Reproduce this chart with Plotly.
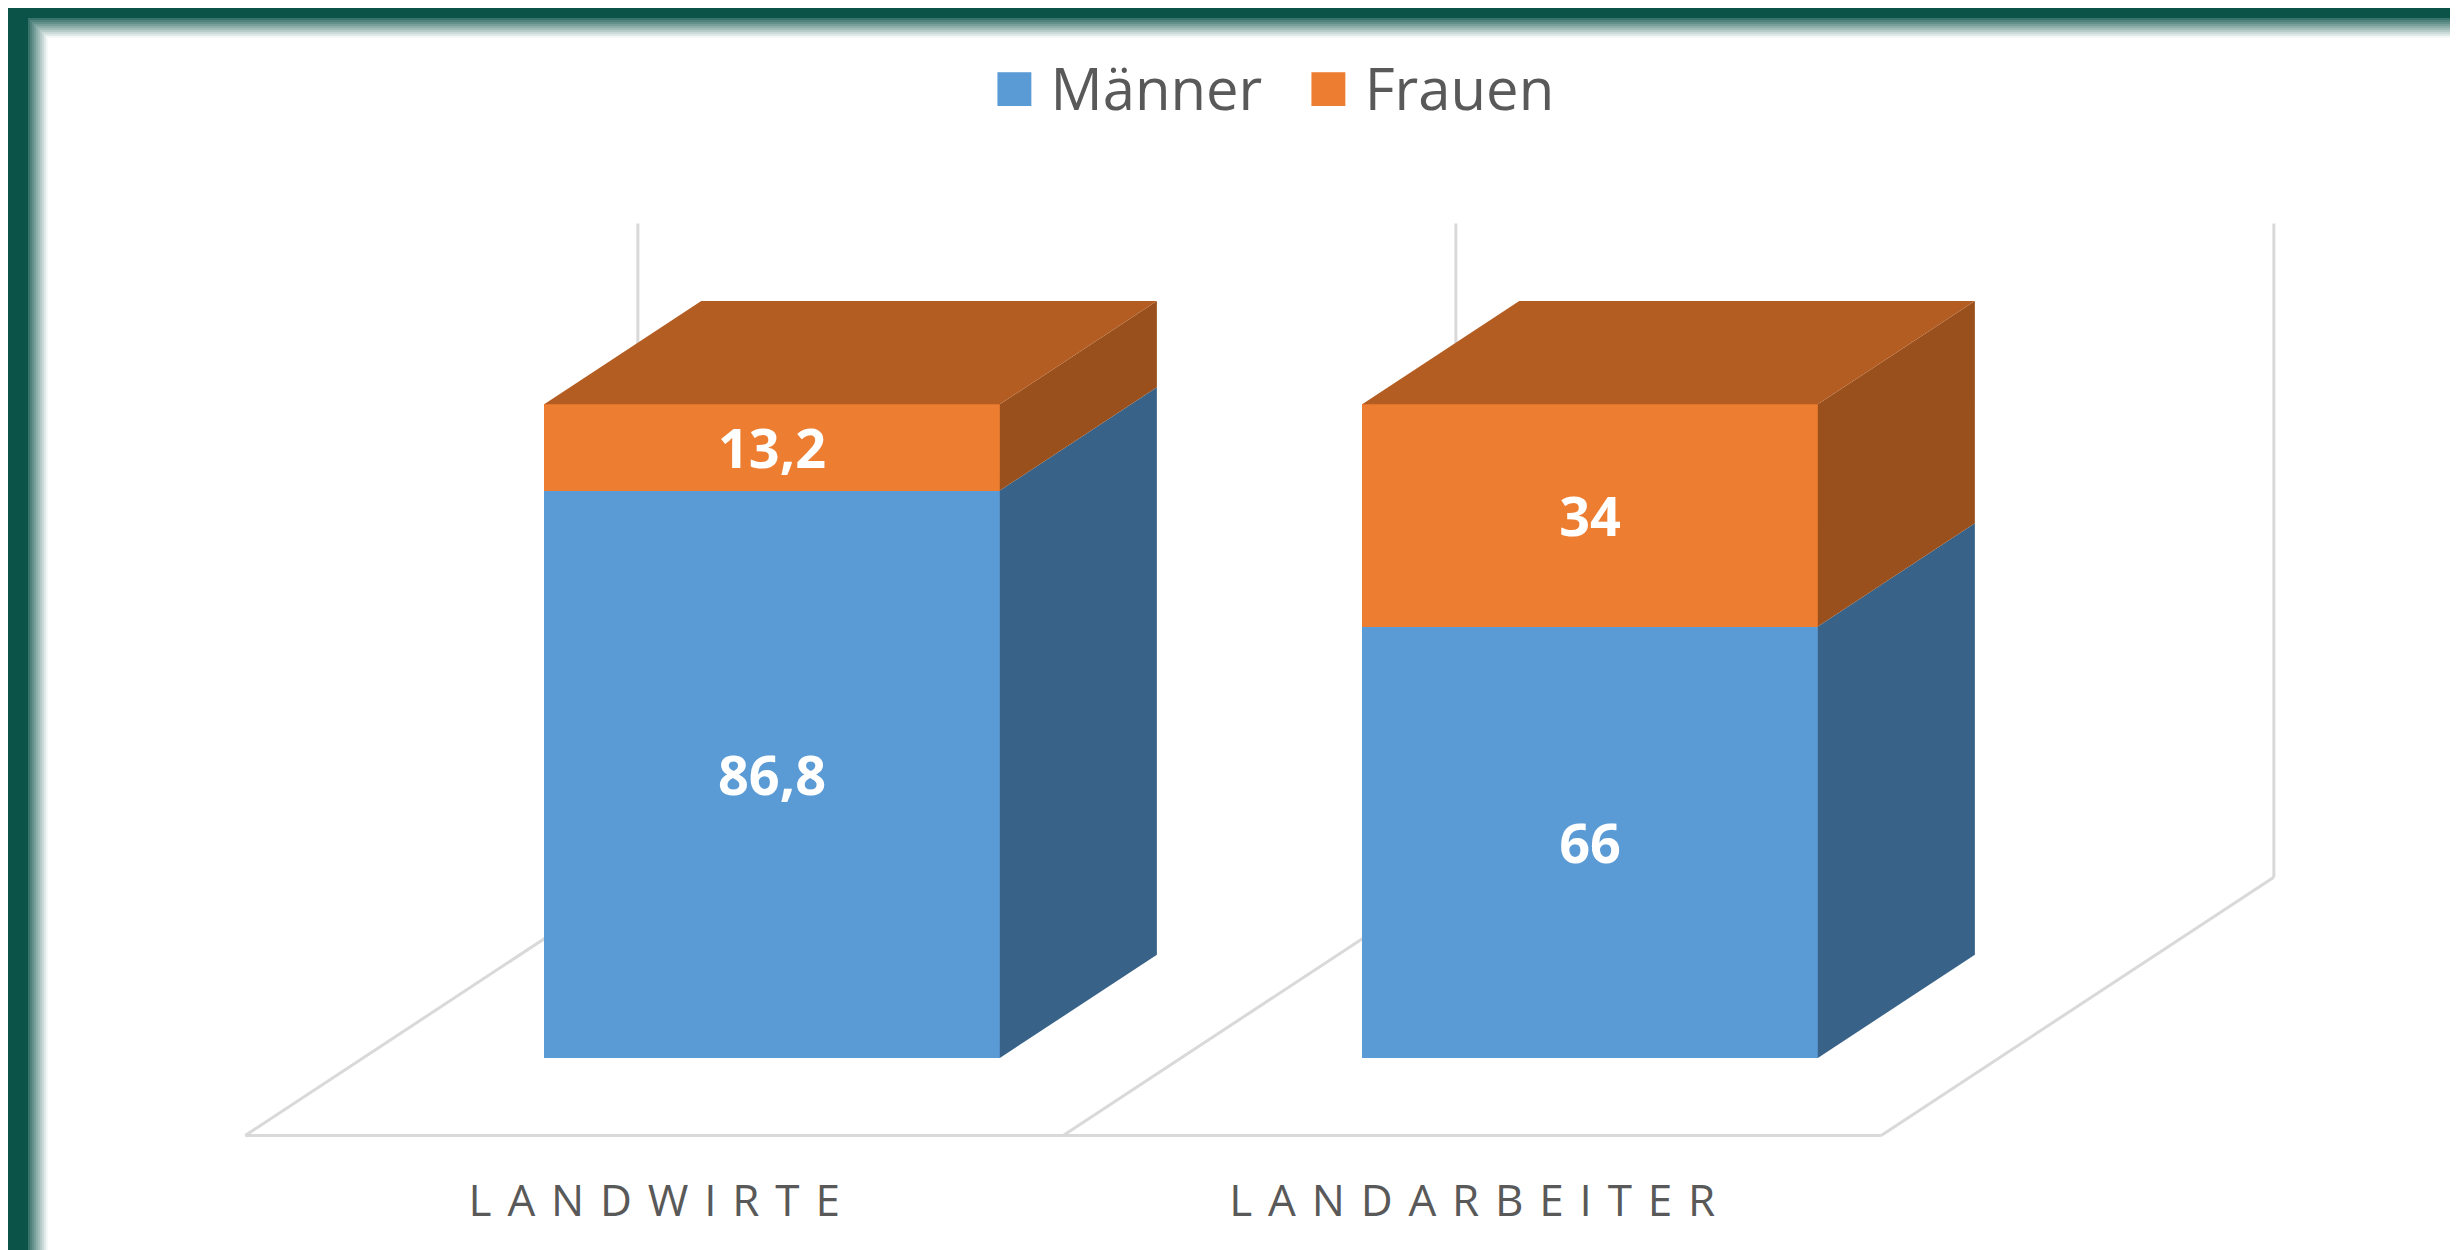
import plotly.graph_objects as go

# ---------------- data ----------------
categories = ["Landwirte", "Landarbeiter"]
tick_labels = ["LANDWIRTE", "LANDARBEITER"]
series_names = ["Männer", "Frauen"]
maenner = [86.8, 66]
frauen = [13.2, 34]

# ---------------- style / geometry ----------------
W, H = 2458, 1250
MB = 90                      # bottom margin (px)
PLOT_H = H - MB
BAR_W = 0.557                # bar width in category units
DX, DY = 0.192, 15.8         # oblique depth of one bar (x units, y units)
FLOOR_FRONT, FLOOR_BACK = -0.75, 1.75   # floor extent in bar depths
AXIS_MAX = 100
X_RANGE = [-0.9340, 2.0709]
Y_RANGE = [-16.83, 160.62]

front_cols = ["#5B9BD5", "#ED7D31"]
side_cols = ["#386287", "#9A501C"]
top_cols = ["#3F73A3", "#B45D22"]
wall_col = "#D9D9D9"
text_col = "#595959"
frame_col = "#0B5248"
FONT = "Open Sans"

series = [maenner, frauen]
xpos = list(range(len(categories)))


def fmt(v):
    return f"{v:g}".replace(".", ",")


def spaced(s):
    return (" \u200a").join(list(s))


fig = go.Figure()

# front faces: real stacked bars
for k, (name, vals) in enumerate(zip(series_names, series)):
    fig.add_trace(go.Bar(
        x=xpos, y=vals, name=name, width=BAR_W, legendgroup=name,
        showlegend=False,
        marker=dict(color=front_cols[k], line=dict(width=0)),
        text=[fmt(v) for v in vals], textposition="inside",
        insidetextanchor="middle", textangle=0,
        textfont=dict(color="white", size=54, family=FONT, weight="bold"),
        hoverinfo="skip",
    ))

# side and top faces, computed from the same values
for i in xpos:
    base = 0.0
    xr = i + BAR_W / 2
    xl = i - BAR_W / 2
    for k, vals in enumerate(series):
        top = base + vals[i]
        fig.add_trace(go.Scatter(
            x=[xr, xr + DX, xr + DX, xr, xr],
            y=[base, base + DY, top + DY, top, base],
            mode="lines", fill="toself", fillcolor=side_cols[k],
            line=dict(width=0, color=side_cols[k]),
            showlegend=False, hoverinfo="skip"))
        if k == len(series) - 1:
            fig.add_trace(go.Scatter(
                x=[xl, xl + DX, xr + DX, xr, xl],
                y=[top, top + DY, top + DY, top, top],
                mode="lines", fill="toself", fillcolor=top_cols[k],
                line=dict(width=0, color=top_cols[k]),
                showlegend=False, hoverinfo="skip"))
        base = top

# legend entries (large square keys like the original)
for k, name in enumerate(series_names):
    fig.add_trace(go.Scatter(
        x=[None], y=[None], mode="markers", legendgroup=name,
        name=f"<span style='color:{front_cols[k]};font-size:70px'>■</span> {name}",
        marker=dict(size=0, opacity=0, color="rgba(0,0,0,0)",
                    line=dict(width=0)),
        showlegend=True, hoverinfo="skip"))

# floor & wall structure (behind the bars)
shapes = []
n = len(categories)
fy = FLOOR_FRONT * DY
by = FLOOR_BACK * DY
line = dict(color=wall_col, width=3)
shapes.append(dict(type="line", xref="x", yref="y", layer="below",
                   x0=-0.5 + FLOOR_FRONT * DX, y0=fy,
                   x1=n - 0.5 + FLOOR_FRONT * DX, y1=fy, line=line))
for b in range(n + 1):
    c = b - 0.5
    shapes.append(dict(type="line", xref="x", yref="y", layer="below",
                       x0=c + FLOOR_FRONT * DX, y0=fy,
                       x1=c + FLOOR_BACK * DX, y1=by, line=line))
    shapes.append(dict(type="line", xref="x", yref="y", layer="below",
                       x0=c + FLOOR_BACK * DX, y0=by,
                       x1=c + FLOOR_BACK * DX, y1=by + AXIS_MAX, line=line))


# dark green frame (left and top), with soft fade
def px_x(p):
    return p / W


def px_y(p):
    return 1 - p / PLOT_H


shapes.append(dict(type="rect", xref="paper", yref="paper", layer="above",
                   x0=px_x(0), x1=px_x(20), y0=px_y(H), y1=px_y(0),
                   fillcolor=frame_col, line=dict(width=0)))
shapes.append(dict(type="rect", xref="paper", yref="paper", layer="above",
                   x0=px_x(0), x1=px_x(W), y0=px_y(10), y1=px_y(0),
                   fillcolor=frame_col, line=dict(width=0)))
steps = 10
for s in range(steps):
    op = 0.85 * (1 - (s + 0.5) / steps)
    shapes.append(dict(type="rect", xref="paper", yref="paper", layer="above",
                       x0=px_x(20 + 2 * s), x1=px_x(22 + 2 * s),
                       y0=px_y(H), y1=px_y(10 + 2 * s),
                       fillcolor=frame_col, opacity=op, line=dict(width=0)))
    shapes.append(dict(type="rect", xref="paper", yref="paper", layer="above",
                       x0=px_x(22 + 2 * s), x1=px_x(W),
                       y0=px_y(12 + 2 * s), y1=px_y(10 + 2 * s),
                       fillcolor=frame_col, opacity=op, line=dict(width=0)))

fig.update_layout(
    width=W, height=H,
    barmode="stack",
    separators=",.",
    paper_bgcolor="white", plot_bgcolor="white",
    margin=dict(l=0, r=0, t=0, b=MB),
    shapes=shapes,
    showlegend=True,
    legend=dict(orientation="h", x=0.508, y=px_y(80), xanchor="center",
                yanchor="middle", traceorder="normal", itemwidth=30,
                font=dict(family=FONT, size=58, color=text_col),
                bgcolor="rgba(0,0,0,0)", itemclick=False,
                itemdoubleclick=False),
    xaxis=dict(range=X_RANGE, showgrid=False, zeroline=False, showline=False,
               ticks="", tickmode="array",
               tickvals=[i + FLOOR_FRONT * DX for i in xpos],
               ticktext=[spaced(t) for t in tick_labels], ticklabelstandoff=3,
               tickfont=dict(family=FONT, size=44, color=text_col),
               fixedrange=True),
    yaxis=dict(range=Y_RANGE, visible=False, fixedrange=True),
    font=dict(family=FONT),
)

fig.write_html("out.html")
